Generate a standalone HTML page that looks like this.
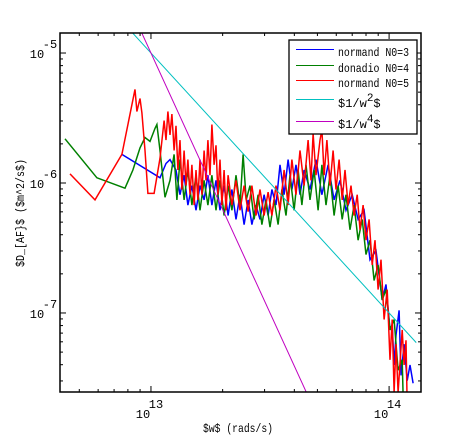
<!DOCTYPE html>
<html><head><meta charset="utf-8"><style>
html,body{margin:0;background:#fff;width:465px;height:440px;overflow:hidden;position:relative;}
svg{display:block;font-family:"Liberation Mono","DejaVu Sans Mono",monospace;}
</style></head><body>
<svg id="chart" width="465" height="440" viewBox="0 0 465 440" xmlns="http://www.w3.org/2000/svg" style="position:absolute;left:0;top:0">
<rect x="0" y="0" width="465" height="440" fill="#fff"/>
<defs><clipPath id="pc"><rect x="60" y="33" width="361" height="359"/></clipPath></defs>
<g id="series" clip-path="url(#pc)"></g>
<g id="axes"></g>
</svg>
<script>
// ---- data (log10 omega, log10 D) ----
const xTickExp = [13, 14];
const yTickExp = [-5, -6, -7];
const blueLogW = [12.878,13.038,13.063,13.08,13.105,13.122,13.139,13.155,13.172,13.189,13.206,13.223,13.239,13.256,13.273,13.29,13.307,13.324,13.34,13.357,13.374,13.391,13.408,13.424,13.441,13.458,13.475,13.492,13.508,13.525,13.542,13.559,13.576,13.592,13.609,13.626,13.643,13.668,13.693,13.718,13.744,13.769,13.794,13.819,13.845,13.87,13.895,13.92,13.945,13.971,13.987,14.004,14.013,14.021,14.029,14.042,14.05,14.063,14.076,14.088,14.101];
const blueLogD = [-5.78,-5.96,-5.85,-5.82,-5.90,-6.09,-5.94,-6.17,-6.02,-6.21,-6.02,-6.13,-5.94,-6.17,-5.98,-6.21,-6.02,-6.25,-6.05,-6.28,-6.09,-6.32,-6.13,-6.32,-6.17,-6.28,-6.09,-6.25,-6.05,-6.17,-5.86,-6.09,-5.82,-6.05,-5.86,-6.09,-5.90,-6.05,-5.82,-6.09,-5.86,-6.13,-5.98,-6.21,-6.09,-6.28,-6.21,-6.59,-6.52,-6.90,-6.78,-7.13,-7.09,-7.40,-7.17,-6.98,-7.48,-7.24,-7.52,-7.40,-7.54];
const greenLogW = [12.639,12.773,12.891,12.924,12.954,12.975,12.996,13.017,13.025,13.038,13.059,13.08,13.097,13.109,13.122,13.139,13.155,13.172,13.189,13.206,13.223,13.239,13.256,13.273,13.29,13.307,13.324,13.34,13.357,13.374,13.387,13.4,13.416,13.433,13.45,13.466,13.483,13.5,13.517,13.534,13.55,13.567,13.584,13.601,13.618,13.634,13.651,13.668,13.685,13.702,13.718,13.735,13.752,13.769,13.786,13.803,13.819,13.836,13.853,13.87,13.887,13.903,13.92,13.937,13.954,13.971,13.987,14.004,14.021,14.038,14.055,14.059];
const greenLogD = [-5.66,-5.96,-6.04,-5.90,-5.73,-5.65,-5.68,-5.58,-5.55,-5.75,-6.11,-5.98,-5.78,-6.13,-5.82,-6.13,-5.90,-6.17,-5.94,-6.21,-5.98,-6.17,-5.94,-6.21,-5.98,-6.25,-6.02,-6.21,-5.94,-6.17,-5.78,-6.13,-6.02,-6.28,-6.09,-6.32,-6.13,-6.34,-6.13,-6.32,-6.05,-6.25,-5.94,-6.21,-5.90,-6.17,-5.86,-6.13,-5.90,-6.21,-5.86,-6.17,-5.94,-6.25,-6.02,-6.28,-6.09,-6.36,-6.17,-6.44,-6.28,-6.55,-6.44,-6.75,-6.63,-6.90,-6.82,-7.13,-7.05,-7.44,-7.36,-7.63];
const redLogW = [12.66,12.765,12.878,12.933,12.941,12.954,12.962,12.975,12.987,13.013,13.038,13.055,13.063,13.071,13.08,13.088,13.097,13.105,13.113,13.122,13.13,13.139,13.147,13.155,13.164,13.172,13.181,13.189,13.197,13.206,13.214,13.223,13.231,13.239,13.248,13.256,13.265,13.273,13.281,13.29,13.298,13.307,13.315,13.324,13.34,13.357,13.374,13.391,13.408,13.424,13.441,13.458,13.475,13.492,13.508,13.525,13.542,13.559,13.576,13.592,13.609,13.626,13.643,13.66,13.672,13.681,13.693,13.71,13.718,13.727,13.739,13.752,13.765,13.777,13.79,13.803,13.815,13.828,13.84,13.853,13.866,13.878,13.891,13.903,13.916,13.929,13.941,13.954,13.966,13.979,13.992,14.004,14.013,14.021,14.029,14.038,14.055,14.063,14.071,14.075];
const redLogD = [-5.93,-6.13,-5.78,-5.28,-5.45,-5.35,-5.46,-5.75,-6.08,-6.08,-5.81,-5.52,-5.67,-5.45,-5.63,-5.47,-5.75,-5.56,-5.90,-5.67,-6.05,-5.75,-6.02,-5.82,-6.09,-5.86,-6.17,-5.90,-6.13,-5.82,-6.09,-5.75,-5.98,-5.67,-5.94,-5.55,-5.86,-5.71,-6.09,-5.82,-6.17,-5.90,-6.21,-5.94,-6.17,-5.98,-6.21,-6.02,-6.22,-6.02,-6.25,-6.05,-6.25,-6.07,-6.25,-6.02,-6.21,-5.90,-6.17,-5.82,-6.09,-5.75,-6.02,-5.67,-5.98,-5.62,-5.94,-5.67,-5.59,-5.94,-5.67,-6.02,-5.75,-6.05,-5.82,-6.13,-5.90,-6.17,-6.02,-6.25,-6.09,-6.36,-6.17,-6.44,-6.28,-6.63,-6.44,-6.82,-6.59,-7.05,-6.82,-7.36,-7.05,-7.61,-7.24,-7.61,-7.13,-7.40,-7.21,-7.63];
const invW2Coef = 21.0;   // log10 D = 21 - 2 log10 w
const invW4Coef = 47.0;   // log10 D = 47 - 4 log10 w
const refRange = [12.6, 14.114];

// ---- axes functions ----
const X0=60,X1=421,Y0=33,Y1=392;
const xMin=12.618,xMax=14.134,yMin=-7.608,yMax=-4.846;
const sx=v=>X0+(v-xMin)/(xMax-xMin)*(X1-X0);
const sy=v=>Y1-(v-yMin)/(yMax-yMin)*(Y1-Y0);
const NS="http://www.w3.org/2000/svg";
const mk=(t,a,p)=>{const e=document.createElementNS(NS,t);for(const k in a)e.setAttribute(k,a[k]);p.appendChild(e);return e;};
const S=document.getElementById('series'),A=document.getElementById('axes');

function line(lw,ld,color,name){
  const pts=lw.map((w,i)=>sx(w).toFixed(1)+','+sy(ld[i]).toFixed(1)).join(' ');
  const el=mk('polyline',{points:pts,fill:'none',stroke:color,'stroke-width':1.5,'stroke-linejoin':'miter'},S);
  
  
}
line(blueLogW,blueLogD,'#0000ff','series-normand-n0-3');
line(greenLogW,greenLogD,'#008000','series-donadio-n0-4');
line(redLogW,redLogD,'#ff0000','series-normand-n0-5');
function ref(c,p,color,name){
  const lw=refRange, ld=lw.map(w=>c-p*w);
  const el=mk('line',{x1:sx(lw[0]),y1:sy(ld[0]),x2:sx(lw[1]),y2:sy(ld[1]),stroke:color,'stroke-width':1},S);
  
  
}
ref(invW2Coef,2,'#00c0c0','line-inv-w2');
ref(invW4Coef,4,'#c000c0','line-inv-w4');

const fr=mk('rect',{x:X0,y:Y0,width:X1-X0,height:Y1-Y0,fill:'none',stroke:'#000','stroke-width':1.5},A);


for(let d=12;d<=14;d++)for(let m=1;m<10;m++){
  const v=d+Math.log10(m); if(v<xMin||v>xMax)continue;
  const L=m===1?6:3,x=sx(v);
  mk('line',{x1:x,y1:Y1,x2:x,y2:Y1-L,stroke:'#000'},A);
  mk('line',{x1:x,y1:Y0,x2:x,y2:Y0+L,stroke:'#000'},A);
}
for(let d=-8;d<=-5;d++)for(let m=1;m<10;m++){
  const v=d+Math.log10(m); if(v<yMin||v>yMax)continue;
  const L=m===1?6:3,y=sy(v);
  mk('line',{x1:X0,y1:y,x2:X0+L,y2:y,stroke:'#000'},A);
  mk('line',{x1:X1,y1:y,x2:X1-L,y2:y,stroke:'#000'},A);
}
xTickExp.forEach(e=>{
  const x=sx(e);
  const t1=mk('text',{x:x-8,y:418,'font-size':12,'text-anchor':'middle'},A);t1.textContent='10';
  
  
  const t2=mk('text',{x:x+5,y:408,'font-size':12,'text-anchor':'middle'},A);t2.textContent=String(e);
  
  
});
yTickExp.forEach(e=>{
  const y=sy(e);
  const t1=mk('text',{x:37,y:y+5,'font-size':12,'text-anchor':'middle'},A);t1.textContent='10';
  
  
  const t2=mk('text',{x:50,y:y-5,'font-size':12,'text-anchor':'middle'},A);t2.textContent=String(e);
  
  
});
</script>
<svg style="position:absolute;left:0;top:0" width="465" height="440" xmlns="http://www.w3.org/2000/svg" font-family="Liberation Mono, DejaVu Sans Mono, monospace">
<text x="238" y="432" font-size="12" text-anchor="middle" textLength="70" lengthAdjust="spacingAndGlyphs">$w$ (rads/s)</text>
<text x="0" y="0" font-size="12" text-anchor="middle" textLength="108" lengthAdjust="spacingAndGlyphs" transform="translate(24,213) rotate(-90)">$D_[AF}$ ($m^2/s$)</text>
<g>
<rect x="289" y="40" width="128" height="94" fill="#fff" stroke="#000" stroke-width="1.3"/>
<line x1="296" y1="49.5" x2="334" y2="49.5" stroke="#0000ff"/>
<text x="338" y="56" font-size="12" textLength="71" lengthAdjust="spacingAndGlyphs">normand N0=3</text>
<line x1="296" y1="65.5" x2="334" y2="65.5" stroke="#008000"/>
<text x="338" y="72" font-size="12" textLength="71" lengthAdjust="spacingAndGlyphs">donadio N0=4</text>
<line x1="296" y1="80.5" x2="334" y2="80.5" stroke="#ff0000"/>
<text x="338" y="87" font-size="12" textLength="71" lengthAdjust="spacingAndGlyphs">normand N0=5</text>
<line x1="296" y1="99.5" x2="334" y2="99.5" stroke="#00c0c0"/>
<text x="338" y="107" font-size="12">$1/w<tspan dy="-6" font-size="11">2</tspan><tspan dy="6">$</tspan></text>
<line x1="296" y1="121.5" x2="334" y2="121.5" stroke="#c000c0"/>
<text x="338" y="128" font-size="12">$1/w<tspan dy="-6" font-size="11">4</tspan><tspan dy="6">$</tspan></text>
</g>
</svg>
</body></html>
